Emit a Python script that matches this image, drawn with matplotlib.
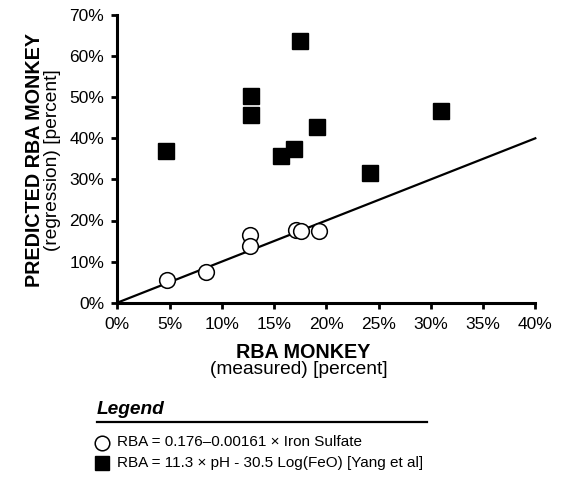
import matplotlib
matplotlib.use("Agg")
import matplotlib.pyplot as plt
from matplotlib.lines import Line2D
from matplotlib.ticker import FuncFormatter

plt.rcParams['font.family'] = ['Liberation Sans', 'DejaVu Sans']

# measured vs predicted RBA (percent)
iron_x = [4.8, 8.5, 12.7, 12.7, 17.1, 17.6, 19.3]
iron_y = [5.5, 7.5, 16.5, 13.9, 17.8, 17.5, 17.4]

yang_x = [4.7, 12.8, 12.8, 15.7, 16.9, 17.5, 19.1, 24.2, 31.0]
yang_y = [36.9, 50.3, 45.6, 35.7, 37.5, 63.7, 42.7, 31.6, 46.6]

line_x = [0, 40]
line_y = [0, 40]

W, H = 568, 482
fig = plt.figure(figsize=(W / 100, H / 100), dpi=100)
ax = fig.add_axes([117.3 / W, 1 - 302.7 / H, 418 / W, 287.7 / H])

ax.plot(line_x, line_y, color='black', lw=1.6, zorder=2, clip_on=False)
ax.plot(iron_x, iron_y, 'o', ms=11.3, mfc='white', mec='black', mew=1.1,
        zorder=3, clip_on=False)
ax.plot(yang_x, yang_y, 's', ms=11, mfc='black', mec='black', zorder=3,
        clip_on=False)

ax.set_xlim(0, 40)
ax.set_ylim(0, 70)
ax.set_xticks(range(0, 41, 5))
ax.set_yticks(range(0, 71, 10))
pct = FuncFormatter(lambda v, p: f"{v:.0f}%")
ax.xaxis.set_major_formatter(pct)
ax.yaxis.set_major_formatter(pct)
ax.tick_params(length=4.5, width=2, labelsize=12.5)
ax.tick_params(axis='x', pad=6)
ax.tick_params(axis='y', pad=5)
for s in ['top', 'right']:
    ax.spines[s].set_visible(False)
for s in ['left', 'bottom']:
    ax.spines[s].set_linewidth(2.2)

# axis titles
fig.text(35 / W, 1 - 160 / H, 'PREDICTED RBA MONKEY', rotation=90,
         ha='center', va='center', fontsize=14.2, fontweight='bold')
fig.text(53 / W, 1 - 160 / H, '(regression) [percent]', rotation=90,
         ha='center', va='center', fontsize=13.8)
fig.text(303 / W, 1 - 353 / H, 'RBA MONKEY', ha='center', va='center',
         fontsize=14.2, fontweight='bold')
fig.text(299 / W, 1 - 369.5 / H, '(measured) [percent]', ha='center',
         va='center', fontsize=13.8)

# legend block
fig.text(97 / W, 1 - 410 / H, 'Legend', ha='left', va='center',
         fontsize=13.8, fontweight='bold', fontstyle='italic')
fig.add_artist(Line2D([97 / W, 427 / W], [1 - 421.5 / H, 1 - 421.5 / H],
                      color='black', lw=1.6, transform=fig.transFigure))
fig.add_artist(Line2D([102 / W], [1 - 442.5 / H], marker='o', ms=10.5,
                      mfc='white', mec='black', mew=1.1,
                      transform=fig.transFigure))
fig.add_artist(Line2D([102 / W], [1 - 463 / H], marker='s', ms=10.5,
                      mfc='black', mec='black', transform=fig.transFigure))
fig.text(117 / W, 1 - 442.5 / H, 'RBA = 0.176\u20130.00161 \u00d7 Iron Sulfate',
         ha='left', va='center', fontsize=11)
fig.text(117 / W, 1 - 463 / H,
         'RBA = 11.3 \u00d7 pH - 30.5 Log(FeO) [Yang et al]',
         ha='left', va='center', fontsize=11)

fig.savefig('out.png', dpi=100)
